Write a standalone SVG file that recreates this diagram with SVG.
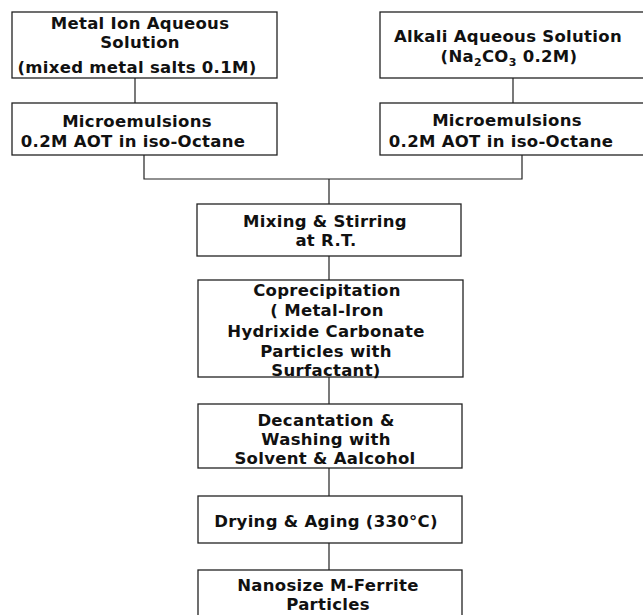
<svg xmlns="http://www.w3.org/2000/svg" width="643" height="615" viewBox="0 0 643 615">
<style>
.box{fill:#fff;stroke:#222;stroke-width:1.3}
.c{fill:none;stroke:#222;stroke-width:1.2}
text{font-family:"DejaVu Sans","Liberation Sans",sans-serif;font-weight:bold;font-size:16.5px;letter-spacing:0.3px;fill:#111;text-anchor:middle}
.sub{font-size:11px}
</style>
<rect width="643" height="615" fill="#fff"/>
<g id="connectors">
<path class="c" d="M135,78V103M513,78V103M144,155V179H522V155M329,179V204M329,256V280M329,377V404M329,468V496M329,543V570"/>
</g>
<g id="metal-ion">
<rect class="box" x="12" y="12" width="265" height="66"/>
<text x="140" y="29">Metal Ion Aqueous</text>
<text x="140" y="47.5">Solution</text>
<text x="137" y="73">(mixed metal salts 0.1M)</text>
</g>
<g id="micro-left">
<rect class="box" x="12" y="103" width="265" height="52"/>
<text x="137" y="127">Microemulsions</text>
<text x="133" y="147">0.2M AOT in iso-Octane</text>
</g>
<g id="alkali">
<rect class="box" x="380" y="12" width="266" height="66"/>
<text x="508" y="42">Alkali Aqueous Solution</text>
<text x="509" y="62">(Na<tspan class="sub" dy="4">2</tspan><tspan dy="-4">CO</tspan><tspan class="sub" dy="4">3</tspan><tspan dy="-4"> 0.2M)</tspan></text>
</g>
<g id="micro-right">
<rect class="box" x="380" y="103" width="266" height="52"/>
<text x="507" y="126">Microemulsions</text>
<text x="501" y="147">0.2M AOT in iso-Octane</text>
</g>
<g id="mixing">
<rect class="box" x="197" y="204" width="264" height="52"/>
<text x="325" y="227">Mixing &amp; Stirring</text>
<text x="326" y="246">at R.T.</text>
</g>
<g id="coprecipitation">
<rect class="box" x="198" y="280" width="265" height="97"/>
<text x="327" y="296">Coprecipitation</text>
<text x="327" y="316">( Metal-Iron</text>
<text x="326" y="337">Hydrixide Carbonate</text>
<text x="326" y="357">Particles with</text>
<text x="326" y="376">Surfactant)</text>
</g>
<g id="decantation">
<rect class="box" x="198" y="404" width="264" height="64"/>
<text x="326" y="426">Decantation &amp;</text>
<text x="326" y="445">Washing with</text>
<text x="325" y="464">Solvent &amp; Aalcohol</text>
</g>
<g id="drying">
<rect class="box" x="198" y="496" width="264" height="47"/>
<text x="326" y="527">Drying &amp; Aging (330°C)</text>
</g>
<g id="nanosize">
<rect class="box" x="198" y="570" width="264" height="60"/>
<text x="328" y="591">Nanosize M-Ferrite</text>
<text x="328" y="609.5">Particles</text>
</g>
</svg>
